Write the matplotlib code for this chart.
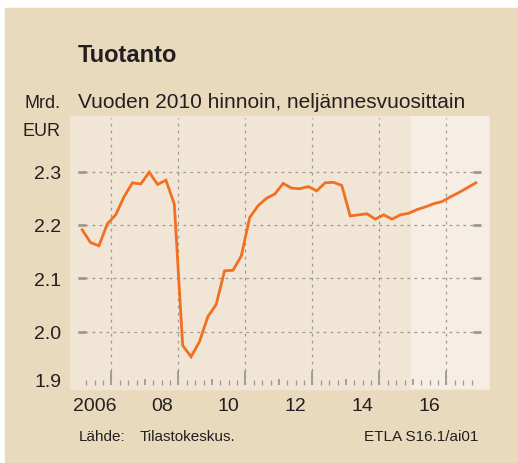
import matplotlib
matplotlib.use("Agg")
import matplotlib.pyplot as plt
import matplotlib.transforms as mtransforms
from matplotlib.patches import Rectangle

# Tuotanto, mrd. EUR, vuoden 2010 hinnoin, 2006Q1 ... 2017Q4
first_year = 2006
output = [
    2.191, 2.167, 2.161, 2.202,   # 2006
    2.219, 2.253, 2.279, 2.277,   # 2007
    2.299, 2.276, 2.284, 2.239,   # 2008
    1.974, 1.953, 1.981, 2.028,   # 2009
    2.051, 2.114, 2.115, 2.142,   # 2010
    2.214, 2.236, 2.250, 2.258,   # 2011
    2.278, 2.269, 2.268, 2.272,   # 2012
    2.264, 2.279, 2.280, 2.274,   # 2013
    2.217, 2.219, 2.221, 2.211,   # 2014
    2.219, 2.211, 2.219, 2.222,   # 2015
    2.229, 2.234, 2.240, 2.244,   # 2016
    2.253, 2.261, 2.270, 2.279,   # 2017
]
forecast_start = 2015.95
label_years = [2006, 2008, 2010, 2012, 2014, 2016]
label_texts = ["2006", "08", "10", "12", "14", "16"]
y_ticks = [1.9, 2.0, 2.1, 2.2, 2.3]

BG = "#e9d9bd"
PLOT_BG = "#f1e6d6"
FC_BG = "#f6eee5"
LINE = "#f26f21"
GRID = "#9c9893"
TXT = "#231f20"
SANS = ["Liberation Sans", "DejaVu Sans"]

W, H = 518, 464


def fx(px):
    return px / W


def fy(py):
    return 1 - py / H


x = [first_year + i // 4 + (i % 4 + 0.5) / 4 for i in range(len(output))]

fig = plt.figure(figsize=(W / 100, H / 100), dpi=100, facecolor="white")
# tan card with a thin white margin top and left
fig.patches.append(Rectangle((fx(5), 0), 1, fy(9), transform=fig.transFigure,
                             color=BG, zorder=-10))
# light plotting panel, a little larger than the data area
fig.patches.append(Rectangle((fx(70), fy(390)), fx(489) - fx(70),
                             fy(116.7) - fy(390), transform=fig.transFigure,
                             color=PLOT_BG, zorder=-9))

ax = fig.add_axes([fx(78), fy(386), fx(481) - fx(78), fy(119.3) - fy(386)])
ax.set_zorder(2)
ax.patch.set_visible(False)
ax.set_xlim(2006.0, 2018.03)
ax.set_ylim(1.9, 2.4)
for s in ax.spines.values():
    s.set_visible(False)

# forecast period: lighter band over the whole panel height
band = mtransforms.blended_transform_factory(ax.transData, fig.transFigure)
ax.add_patch(Rectangle((forecast_start, fy(390)), 2018.27 - forecast_start,
                       fy(116.7) - fy(390), transform=band, color=FC_BG,
                       lw=0, clip_on=False, zorder=0))

ax.plot(x, output, color=LINE, lw=2.0, solid_joinstyle="miter", zorder=3)

# vertical grid at the start of odd years, quarter ticks along the bottom
odd_starts = list(range(first_year + 1, 2018, 2))
ax.set_xticks(odd_starts)
ax.set_xticks([first_year + q / 4 for q in range(1, 48) if q % 4], minor=True)
ax.tick_params(axis="x", which="major", direction="in", length=10, width=1.3,
               color=GRID, labelbottom=False)
ax.tick_params(axis="x", which="minor", direction="in", length=3.5, width=0.9,
               color=GRID)
even_starts = list(range(first_year + 2, 2018, 2))
ax.vlines(even_starts, 0, 6 / 266.7, transform=ax.get_xaxis_transform(),
          color=GRID, lw=1.3, zorder=2)
ax.grid(axis="x", which="major", color=GRID, lw=0.9, ls=(0, (2.2, 3.4)))

# year labels centred on each year
sec = ax.secondary_xaxis("bottom")
sec.set_xticks([y + 0.5 for y in label_years], label_texts)
sec.tick_params(length=0, pad=9, labelsize=14, labelcolor=TXT)
for lab in sec.get_xticklabels():
    lab.set_family(SANS)
sec.spines["bottom"].set_visible(False)

ax.set_yticks(y_ticks)
ax.set_yticklabels([f"{v:.1f}" for v in y_ticks], fontsize=14, color=TXT,
                   family=SANS)
ax.tick_params(axis="y", direction="in", length=6, width=2.0, color=GRID,
               pad=12, left=True, right=True)
ax.grid(axis="y", color=GRID, lw=0.9, ls=(0, (2.2, 3.4)))
ax.get_ygridlines()[0].set_visible(False)
ax.yaxis.get_major_ticks()[0].tick1line.set_visible(False)
ax.yaxis.get_major_ticks()[0].tick2line.set_visible(False)
lab19 = ax.get_yticklabels()[0]
lab19.set_transform(lab19.get_transform() +
                    mtransforms.ScaledTranslation(0, 5.5 / 100, fig.dpi_scale_trans))

fig.text(fx(78), fy(56), "Tuotanto", fontsize=17, fontweight="bold",
         family=SANS, color=TXT, va="center", ha="left")
fig.text(fx(78), fy(102), "Vuoden 2010 hinnoin, neljännesvuosittain",
         fontsize=15, family=SANS, color=TXT, va="center", ha="left")
fig.text(fx(61), fy(103), "Mrd.", fontsize=13, family=SANS, color=TXT,
         va="center", ha="right")
fig.text(fx(61), fy(131), "EUR", fontsize=13, family=SANS, color=TXT,
         va="center", ha="right")
fig.text(fx(79), fy(437), "Lähde:", fontsize=11, family=SANS, color=TXT,
         va="center", ha="left")
fig.text(fx(140), fy(437), "Tilastokeskus.", fontsize=11, family=SANS,
         color=TXT, va="center", ha="left")
fig.text(fx(478), fy(437), "ETLA S16.1/ai01", fontsize=11, family=SANS,
         color=TXT, va="center", ha="right")

fig.savefig("out.png", dpi=100, facecolor="white")
